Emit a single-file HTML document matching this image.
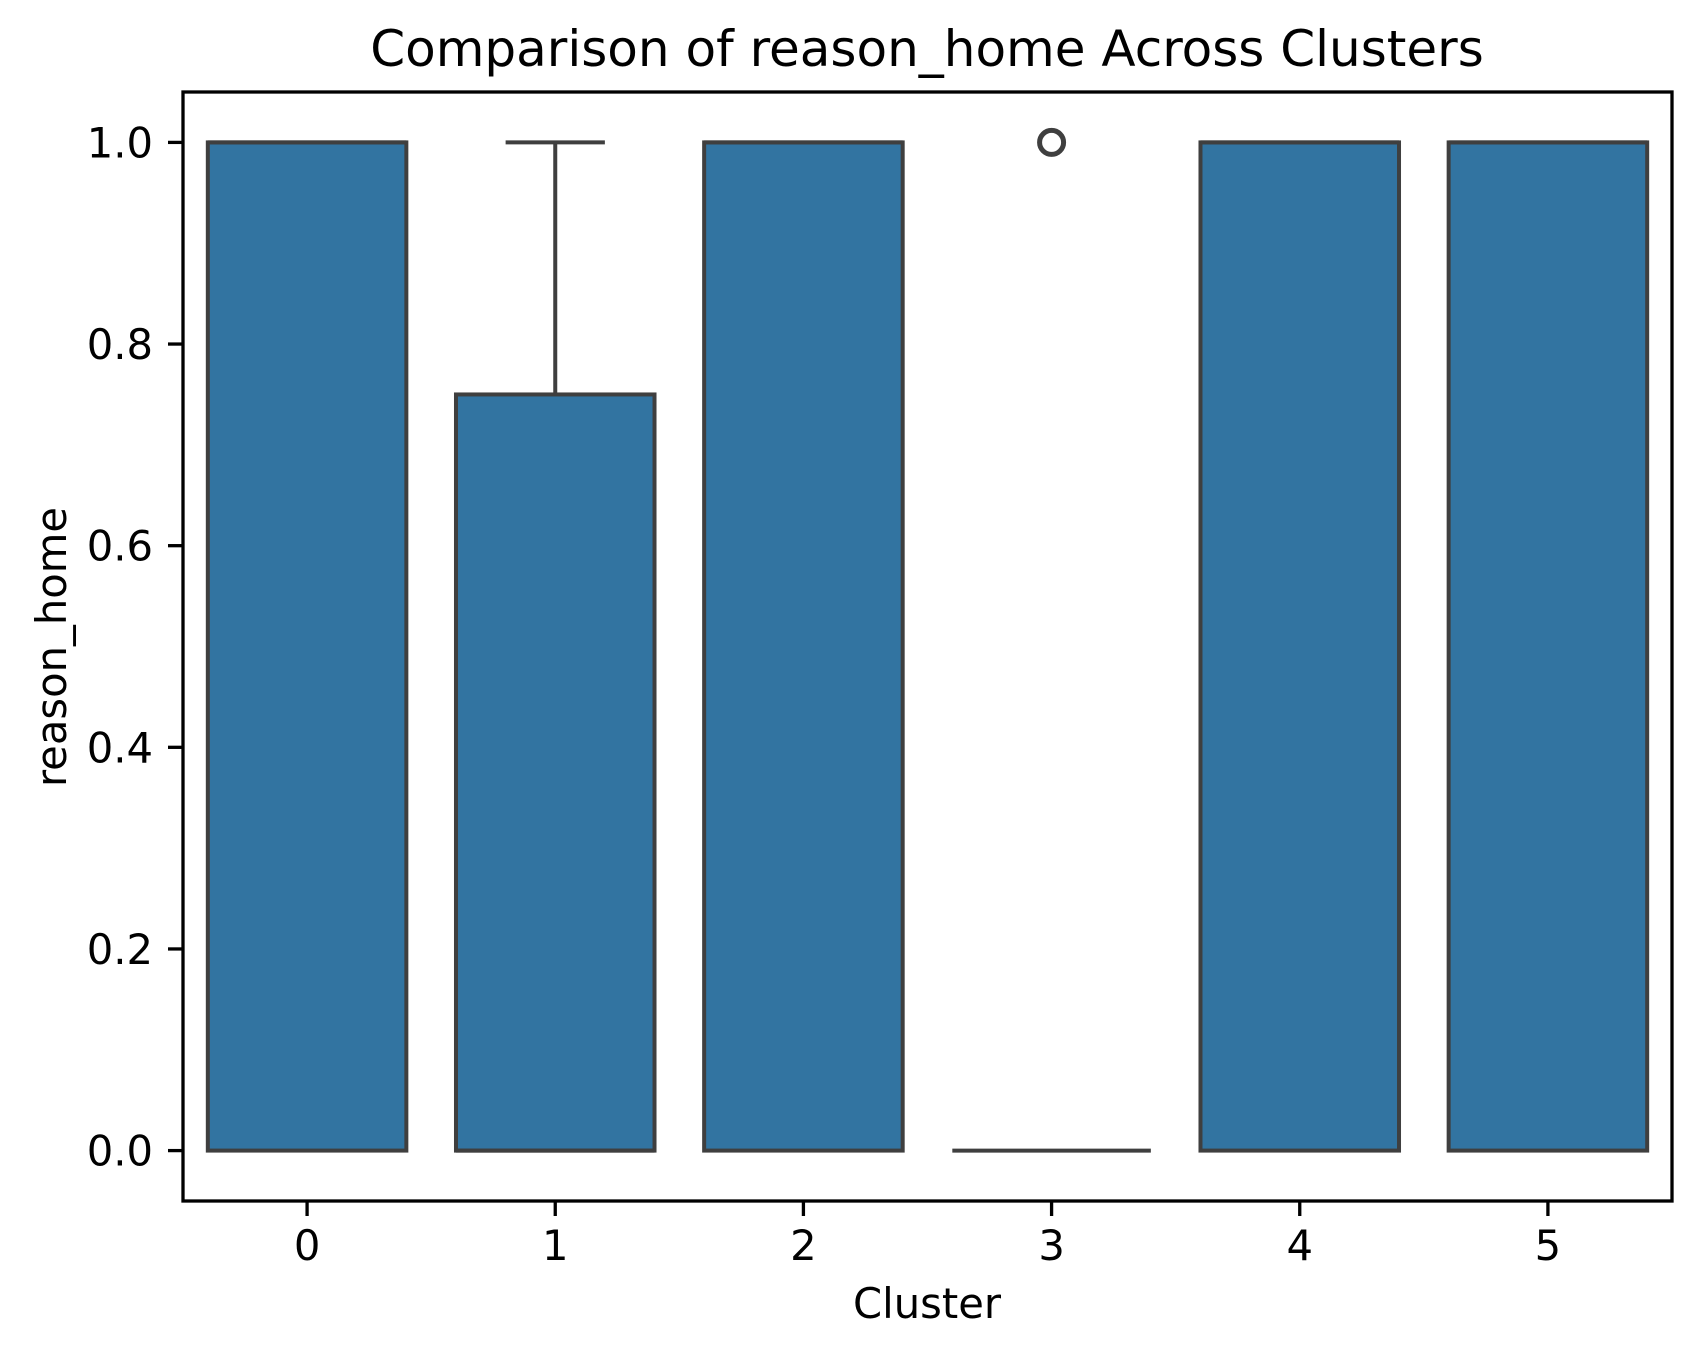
<!DOCTYPE html>
<html><head><meta charset="utf-8"><style>
body{margin:0;background:#fff}
svg text{font-family:"DejaVu Sans","Liberation Sans",sans-serif;fill:#000}
</style></head><body>
<svg id="chart" width="1701" height="1357" viewBox="0 0 1701 1357" xmlns="http://www.w3.org/2000/svg">
<rect width="1701" height="1357" fill="#fff"/>
<text x="927" y="66" font-size="50" text-anchor="middle">Comparison of reason_home Across Clusters</text>
<text x="927" y="1318" font-size="41.7" text-anchor="middle">Cluster</text>
<text transform="translate(66,647) rotate(-90)" font-size="41.7" text-anchor="middle">reason_home</text>
<g id="marks"></g>
<g id="axes"></g>
</svg>
<script>
const categories = ["0","1","2","3","4","5"];
const q1 = [0,0,0,0,0,0];
const q3 = [1,0.75,1,0,1,1];
const medians = [1,0,1,0,1,1];
const whiskLo = [0,0,0,0,0,0];
const whiskHi = [1,1,1,0,1,1];
const outliers = [[],[],[],[1],[],[]];
const yTicks = [0,0.2,0.4,0.6,0.8,1.0];
const yTickLabels = ["0.0","0.2","0.4","0.6","0.8","1.0"];

const L=183,R=1672,T=92,B=1201,ymin=-0.05,ymax=1.05;
const x = i => L + (i+0.5)*(R-L)/categories.length;
const y = v => B - (v-ymin)/(ymax-ymin)*(B-T);
const bw = 0.8*(R-L)/categories.length;
const NS="http://www.w3.org/2000/svg";
const marks=document.getElementById('marks'), axes=document.getElementById('axes');
function mk(tag,attrs,parent){const e=document.createElementNS(NS,tag);for(const k in attrs)e.setAttribute(k,attrs[k]);parent.appendChild(e);return e;}
const ec="#3f3f3f";
categories.forEach((c,i)=>{
  const cx=x(i);
  const g=mk('g',{},marks);
  
  
  if(whiskHi[i]>q3[i]){
    mk('line',{x1:cx,x2:cx,y1:y(q3[i]),y2:y(whiskHi[i]),stroke:ec,'stroke-width':4},g);
    mk('line',{x1:cx-bw/4,x2:cx+bw/4,y1:y(whiskHi[i]),y2:y(whiskHi[i]),stroke:ec,'stroke-width':4},g);
  }
  if(whiskLo[i]<q1[i]){
    mk('line',{x1:cx,x2:cx,y1:y(q1[i]),y2:y(whiskLo[i]),stroke:ec,'stroke-width':4},g);
    mk('line',{x1:cx-bw/4,x2:cx+bw/4,y1:y(whiskLo[i]),y2:y(whiskLo[i]),stroke:ec,'stroke-width':4},g);
  }
  mk('rect',{x:cx-bw/2,y:y(q3[i]),width:bw,height:Math.max(0,y(q1[i])-y(q3[i])),fill:'#3274a1',stroke:ec,'stroke-width':4},g);
  mk('line',{x1:cx-bw/2,x2:cx+bw/2,y1:y(medians[i]),y2:y(medians[i]),stroke:ec,'stroke-width':4},g);
  outliers[i].forEach(v=>{
    const o=mk('circle',{cx:cx,cy:y(v),r:12,fill:'none',stroke:ec,'stroke-width':5},g);
    
    
  });
  const t=mk('line',{x1:cx,x2:cx,y1:B,y2:B+15,stroke:'#000','stroke-width':3.3},axes);
  
  
  const tl=mk('text',{x:cx,y:1260,'font-size':41.7,'text-anchor':'middle'},axes);
  tl.textContent=c;
  
  
});
yTicks.forEach((v,j)=>{
  const t=mk('line',{x1:L-15,x2:L,y1:y(v),y2:y(v),stroke:'#000','stroke-width':3.3},axes);
  
  
  const tl=mk('text',{x:L-30,y:y(v)+15,'font-size':41.7,'text-anchor':'end'},axes);
  tl.textContent=yTickLabels[j];
  
  
});
const frame=mk('rect',{x:L,y:T,width:R-L,height:B-T,fill:'none',stroke:'#000','stroke-width':3.3},axes);


</script>
</body></html>
